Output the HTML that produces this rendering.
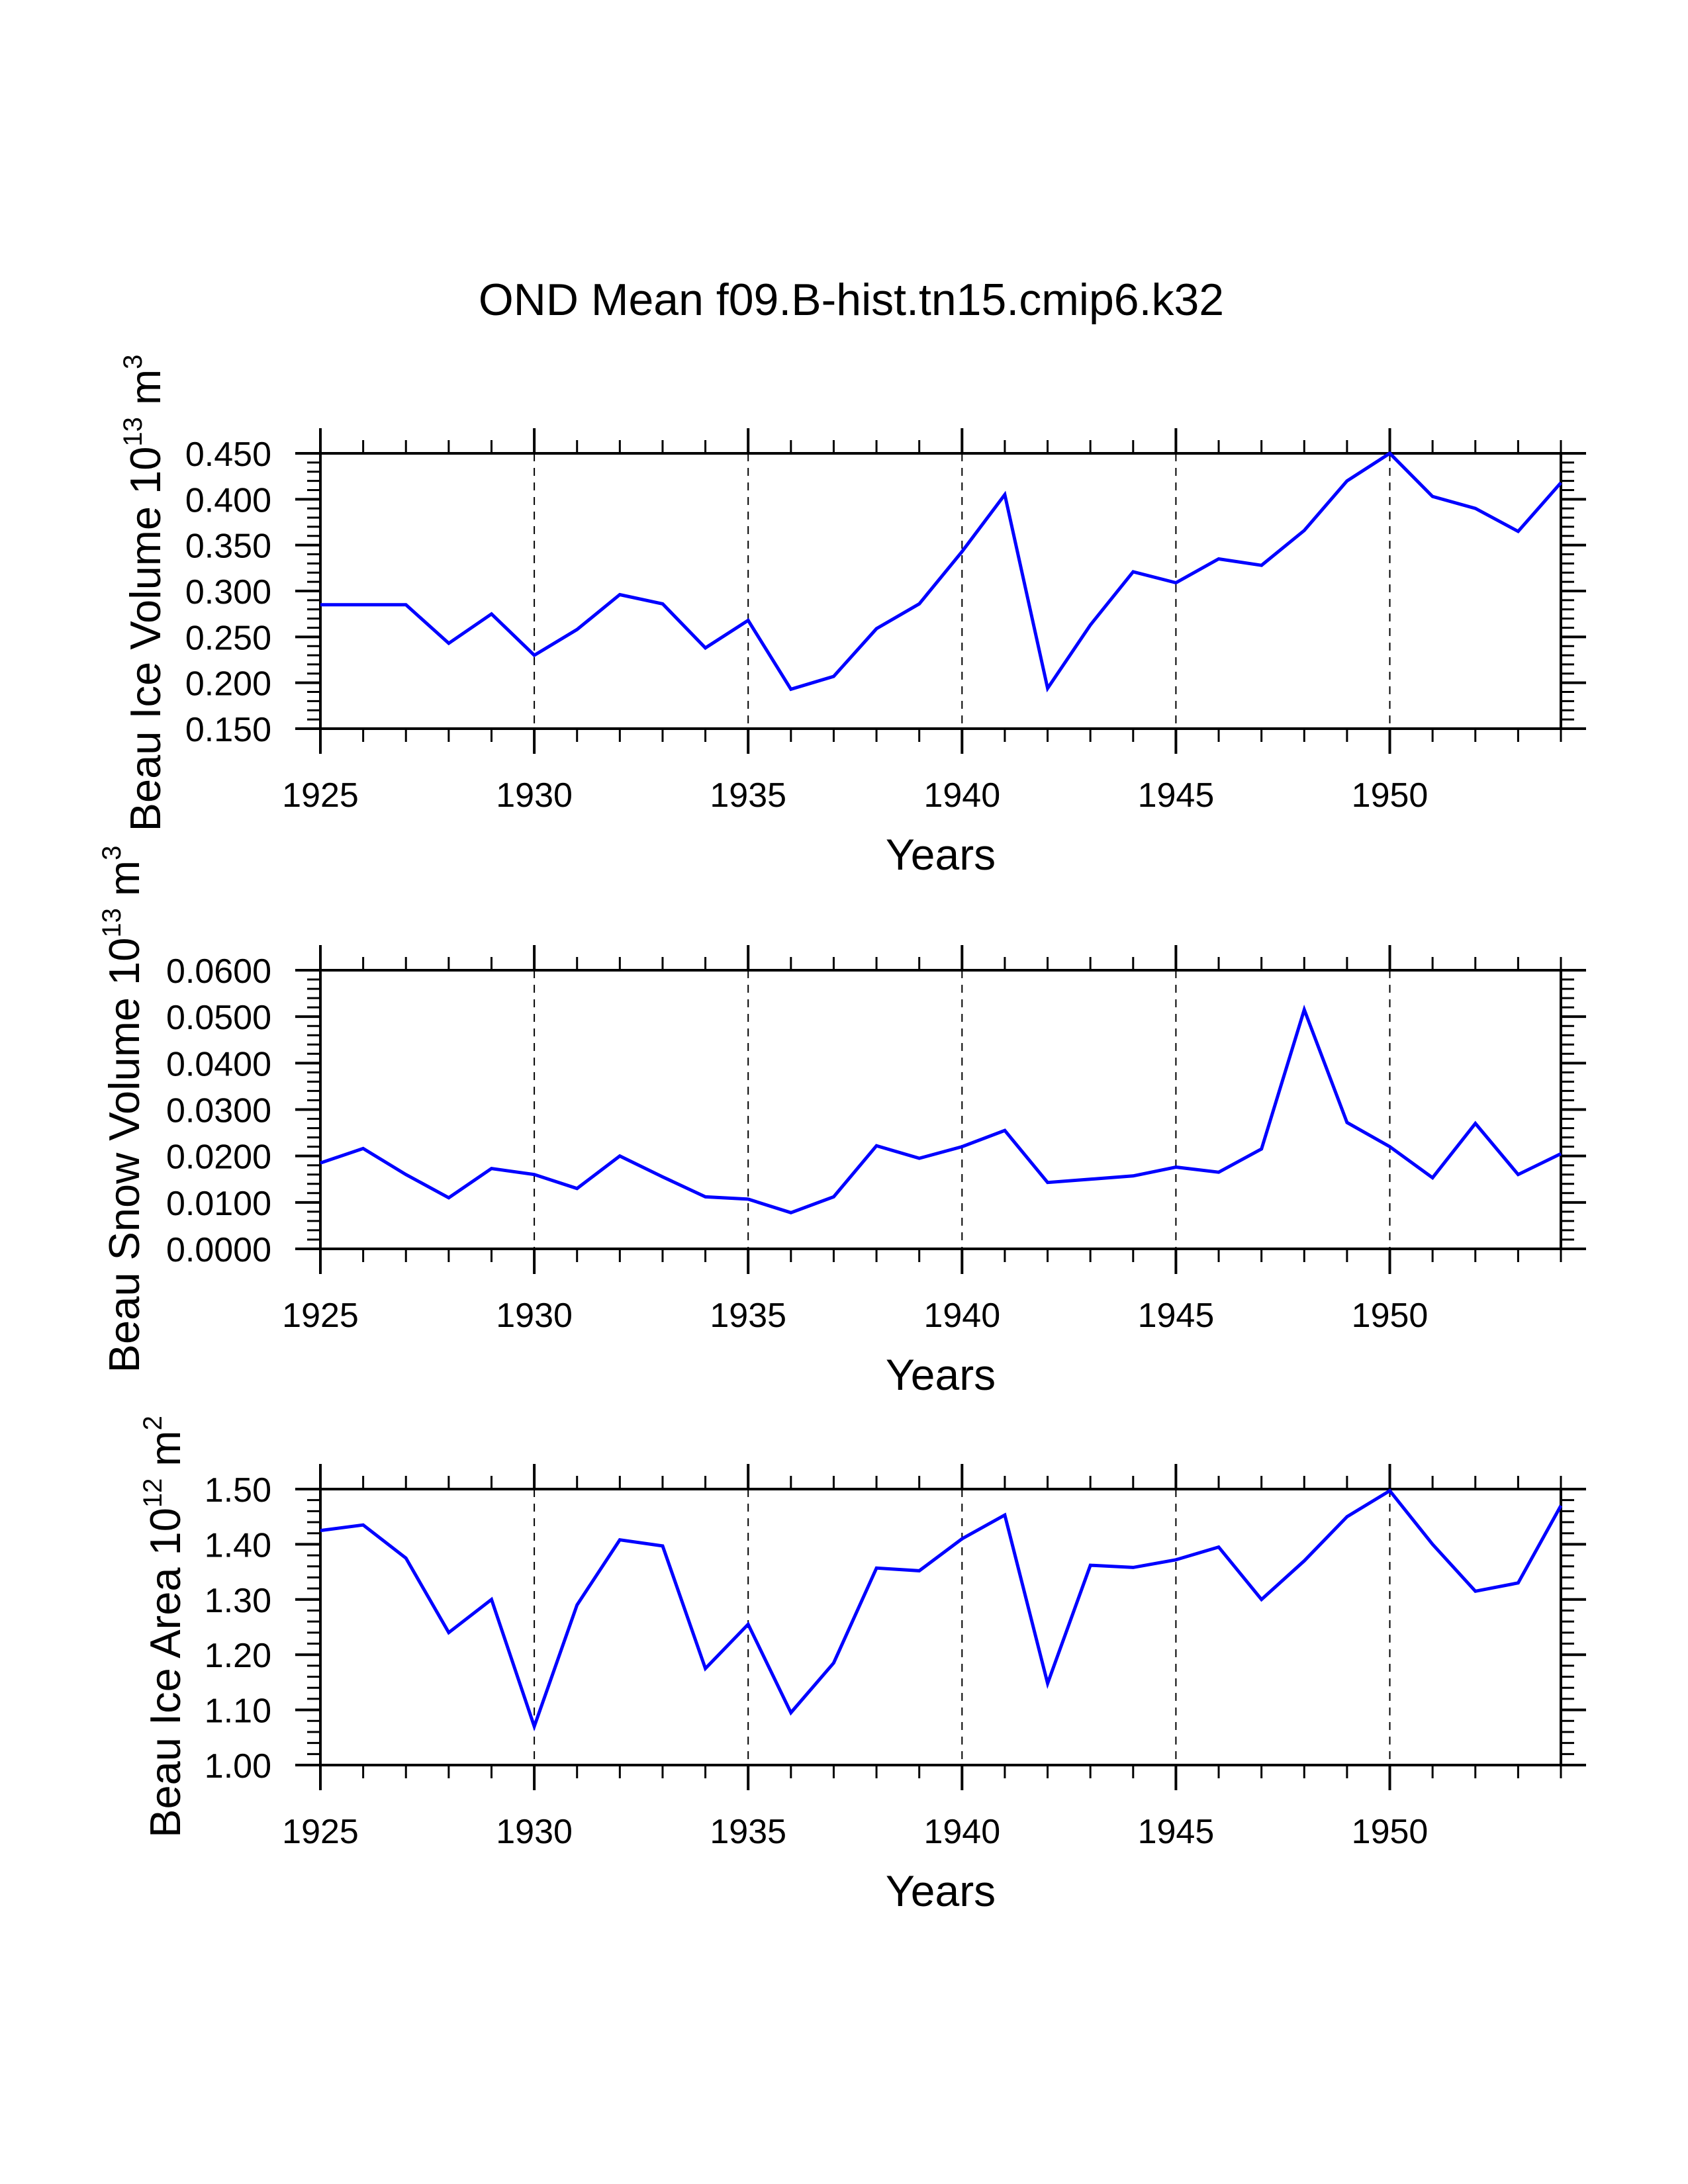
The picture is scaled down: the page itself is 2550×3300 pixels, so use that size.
<!DOCTYPE html>
<html><head><meta charset="utf-8"><style>
html,body{margin:0;padding:0;background:#fff;}
svg{display:block;font-family:"Liberation Sans",sans-serif;}
</style></head><body>
<svg id="chart" width="2550" height="3300" viewBox="0 0 2550 3300" xmlns="http://www.w3.org/2000/svg">
<rect width="2550" height="3300" fill="#fff"/>
<text x="1286" y="476" font-size="68" text-anchor="middle">OND Mean f09.B-hist.tn15.cmip6.k32</text>
</svg>
<script>
const years = [1925,1926,1927,1928,1929,1930,1931,1932,1933,1934,1935,1936,1937,1938,1939,1940,1941,1942,1943,1944,1945,1946,1947,1948,1949,1950,1951,1952,1953,1954];
const iceVolume = [0.285,0.285,0.285,0.243,0.275,0.230,0.258,0.296,0.286,0.238,0.268,0.193,0.207,0.259,0.286,0.343,0.405,0.194,0.263,0.321,0.309,0.335,0.328,0.366,0.420,0.450,0.403,0.390,0.365,0.418];
const snowVolume = [0.0185,0.0216,0.016,0.011,0.0173,0.016,0.013,0.020,0.0155,0.0112,0.0107,0.0078,0.0112,0.0222,0.0195,0.022,0.0255,0.0143,0.015,0.0157,0.0176,0.0165,0.0215,0.0515,0.0272,0.022,0.0153,0.0270,0.016,0.0205];
const iceArea = [1.425,1.435,1.375,1.24,1.30,1.07,1.29,1.408,1.397,1.175,1.255,1.095,1.185,1.357,1.352,1.41,1.453,1.148,1.362,1.358,1.372,1.395,1.30,1.37,1.45,1.497,1.40,1.315,1.33,1.47];
const xTickYears = [1925,1930,1935,1940,1945,1950];
const iceVolTicks = [0.150,0.200,0.250,0.300,0.350,0.400,0.450];
const snowTicks = [0.0,0.01,0.02,0.03,0.04,0.05,0.06];
const areaTicks = [1.0,1.1,1.2,1.3,1.4,1.5];

const NS="http://www.w3.org/2000/svg";
const svg=document.getElementById('chart');
function mk(tag,attrs,parent){const e=document.createElementNS(NS,tag);for(const k in attrs)e.setAttribute(k,attrs[k]);(parent||svg).appendChild(e);return e;}
const X0=484,X1=2358,XMIN=1925,XMAX=1954;
function xs(v){return X0+(v-XMIN)/(XMAX-XMIN)*(X1-X0);}

function panel(cfg){
  const g=mk('g',{});
  
  
  const top=cfg.top,bot=cfg.bot,ymin=cfg.ticks[0],ymax=cfg.ticks[cfg.ticks.length-1];
  const ys=v=>bot-(v-ymin)/(ymax-ymin)*(bot-top);
  xTickYears.forEach(yr=>{ if(yr>XMIN){
    const l=mk('line',{x1:xs(yr),x2:xs(yr),y1:top,y2:bot,stroke:'#000','stroke-width':2,'stroke-dasharray':'12,10'},g);
    
    
  }});
  for(let yr=XMIN;yr<=XMAX;yr++){
    const major=xTickYears.includes(yr);
    const len=major?38:20, sw=major?4:3;
    mk('line',{x1:xs(yr),x2:xs(yr),y1:top,y2:top-len,stroke:'#000','stroke-width':sw},g);
    mk('line',{x1:xs(yr),x2:xs(yr),y1:bot,y2:bot+len,stroke:'#000','stroke-width':sw},g);
  }
  const nm=cfg.ticks.length-1, step=(ymax-ymin)/nm;
  for(let i=0;i<=nm*5;i++){
    const v=ymin+i*step/5, y=ys(v), major=i%5===0;
    const len=major?38:20, sw=major?4:3;
    mk('line',{x1:X0,x2:X0-len,y1:y,y2:y,stroke:'#000','stroke-width':sw},g);
    mk('line',{x1:X1,x2:X1+len,y1:y,y2:y,stroke:'#000','stroke-width':sw},g);
  }
  cfg.ticks.forEach(v=>{
    const t=mk('text',{x:410,y:ys(v)+19,'font-size':52,'text-anchor':'end'},g);
    t.textContent=v.toFixed(cfg.dec);
    
    
  });
  xTickYears.forEach(yr=>{
    const t=mk('text',{x:xs(yr),y:bot+118,'font-size':52,'text-anchor':'middle'},g);
    t.textContent=yr;
    
    
  });
  const xt=mk('text',{x:1421,y:bot+213,'font-size':66,'text-anchor':'middle'},g);
  xt.textContent='Years';
  
  
  const fr=mk('rect',{x:X0,y:top,width:X1-X0,height:bot-top,fill:'none',stroke:'#000','stroke-width':4},g);
  
  
  const pts=cfg.data.map((v,i)=>xs(years[i]).toFixed(1)+','+ys(v).toFixed(1)).join(' ');
  const pl=mk('polyline',{points:pts,fill:'none',stroke:'#0000ff','stroke-width':5,'stroke-linejoin':'miter'},g);
  
  
  const yt=mk('text',{x:0,y:0,'font-size':65,'text-anchor':'middle',transform:`translate(${cfg.tx},${cfg.ty}) rotate(-90)`},g);
  
  
  const a=mk('tspan',{},yt);a.textContent=cfg.label+' 10';
  const b=mk('tspan',{dy:-28,'font-size':40},yt);b.textContent=cfg.exp;
  const c=mk('tspan',{dy:28},yt);c.textContent=' '+cfg.unit;
  const d=mk('tspan',{dy:-28,'font-size':40},yt);d.textContent=cfg.unitExp;
}
panel({name:'ice-volume-panel',top:685,bot:1101,ticks:iceVolTicks,dec:3,data:iceVolume,label:'Beau Ice Volume',exp:'13',unit:'m',unitExp:'3',tx:242,ty:896});
panel({name:'snow-volume-panel',top:1466,bot:1887,ticks:snowTicks,dec:4,data:snowVolume,label:'Beau Snow Volume',exp:'13',unit:'m',unitExp:'3',tx:210,ty:1676});
panel({name:'ice-area-panel',top:2250,bot:2667,ticks:areaTicks,dec:2,data:iceArea,label:'Beau Ice Area',exp:'12',unit:'m',unitExp:'2',tx:272,ty:2458});
</script>
</body></html>
